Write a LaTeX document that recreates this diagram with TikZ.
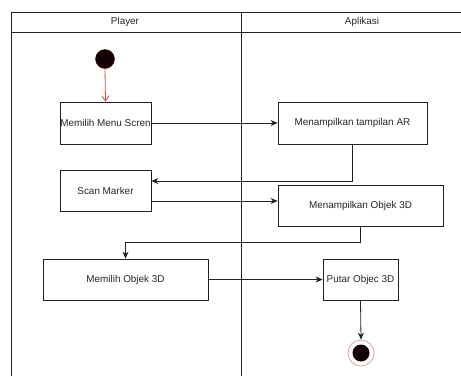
\documentclass[tikz,border=0pt]{standalone}
\usepackage{fontspec}
\setmainfont{Liberation Sans}
\usetikzlibrary{arrows.meta,calc}
\definecolor{ln}{HTML}{222222}
\definecolor{tx}{HTML}{262626}
\definecolor{dotfill}{HTML}{140004}
\definecolor{redarr}{HTML}{D94A4A}
\definecolor{ringc}{HTML}{D9A0A0}
\begin{document}
\begin{tikzpicture}[x=1bp,y=-1bp,
  every node/.style={font=\fontsize{9.9bp}{11.5bp}\selectfont, text=tx},
  actbox/.style={draw=ln, line width=0.8bp, fill=white, rectangle, inner sep=0pt, align=center},
  flow/.style={draw=ln, line width=0.8bp, -{Stealth[length=7bp,width=6bp]}},
  lane/.style={draw=ln, line width=0.9bp}]
\useasboundingbox (0,0) rectangle (461,376);
% swimlane frame
\draw[lane] (11,376) -- (11,12.5) -- (461,12.5);
\draw[lane] (11,32) -- (461,32);
\draw[lane] (241,12.5) -- (241,376);
\node (hp) at (125,22) {Player};
\node (ha) at (362,22) {Aplikasi};
% nodes
\node[circle, fill=dotfill, draw=dotfill!80!red, minimum size=19bp, inner sep=0pt] (start) at (105,59) {};
\node[actbox, minimum width=91bp, minimum height=42bp] (m1) at (105.5,123) {Memilih Menu Scren};
\node[actbox, minimum width=149bp, minimum height=42bp] (a1) at (352.5,123) {Menampilkan tampilan AR};
\node[actbox, minimum width=91bp, minimum height=41.5bp] (scan) at (105.5,191) {Scan Marker};
\node[actbox, minimum width=165bp, minimum height=41.5bp] (a2) at (360.5,206) {Menampilkan Objek 3D};
\node[actbox, minimum width=165bp, minimum height=41bp] (m2) at (125.5,279.5) {Memilih Objek 3D};
\node[actbox, minimum width=75bp, minimum height=41bp] (a3) at (360.5,279.5) {Putar Objec 3D};
\node[circle, draw=ringc, line width=0.8bp, fill=white, minimum size=26bp, inner sep=0pt] (end) at (361,353) {};
\node[circle, fill=dotfill, minimum size=17bp, inner sep=0pt] (endin) at (end.center) {};
% connectors
\draw[draw=redarr, line width=0.8bp, -{Straight Barb[length=5bp,width=7bp]}] (start.south) -- (m1.north);
\draw[flow] (m1.east) -- (a1.west);
\draw[flow] (a1.south) |- ([yshift=10bp]scan.east);
\draw[flow] ([yshift=-10bp]scan.east) -- ([yshift=-10bp]scan.east -| a2.west);
\draw[flow] (a2.south) -- ++(0,15.5) -| (m2.north);
\draw[flow] (m2.east) -- (m2.east -| a3.west);
\draw[flow] (a3.south) -- (end.north);
\end{tikzpicture}
\end{document}
